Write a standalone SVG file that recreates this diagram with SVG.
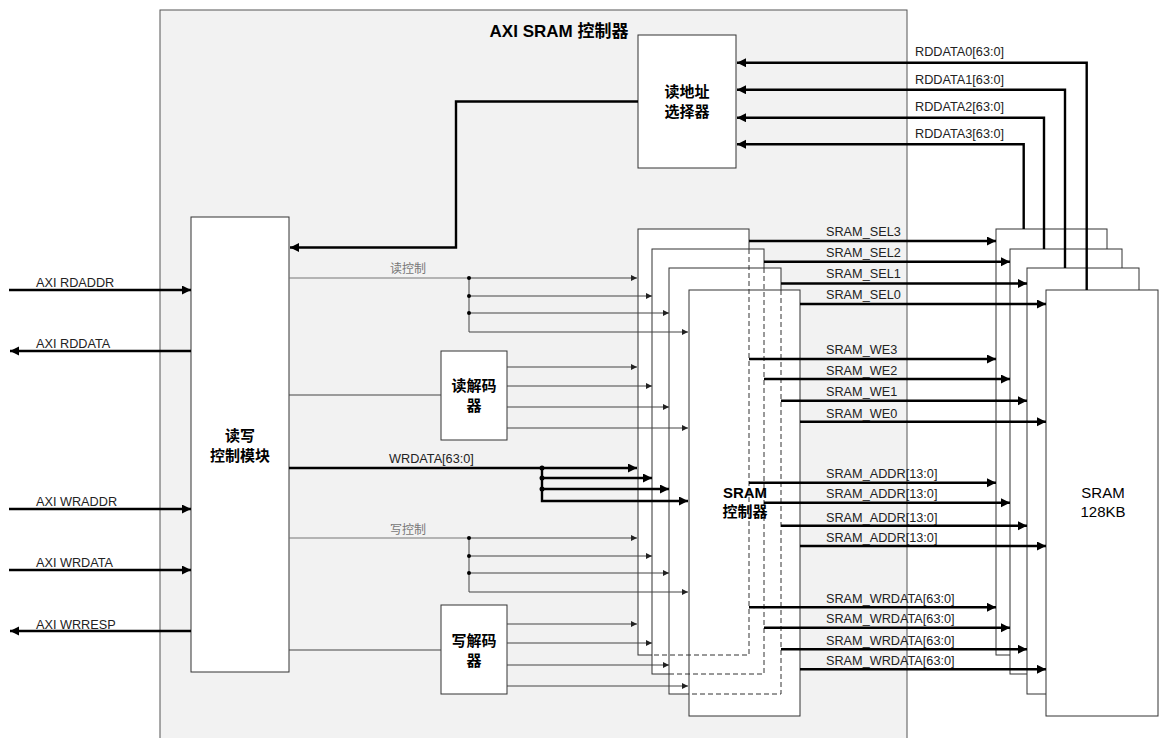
<svg xmlns="http://www.w3.org/2000/svg" width="1165" height="738" viewBox="0 0 1165 738">
<style>
.box{fill:#fff;stroke:#333;stroke-width:1}
.dash{fill:none;stroke:#333;stroke-width:1;stroke-dasharray:5,3}
.thick{fill:none;stroke:#000;stroke-width:2.4}
.thin{fill:none;stroke:#444;stroke-width:1}
.trunk{fill:none;stroke:#777;stroke-width:1}
.lbl{font-family:"Liberation Sans","Noto Sans CJK SC",sans-serif;font-size:12.7px;fill:#222}
.glbl{font-family:"Liberation Sans","Noto Sans CJK SC",sans-serif;font-size:12px;fill:#777}
.bt{font-family:"Liberation Sans","Noto Sans CJK SC",sans-serif;font-size:15px;font-weight:bold;fill:#000;text-anchor:middle}
.nt{font-family:"Liberation Sans","Noto Sans CJK SC",sans-serif;font-size:15px;fill:#000;text-anchor:middle}
.dot{fill:#000}
</style>
<defs>
<marker id="ah" markerUnits="userSpaceOnUse" markerWidth="10" markerHeight="10" refX="9" refY="4.5" orient="auto"><path d="M0,0 L9,4.5 L0,9 z" fill="#000"/></marker>
<marker id="as" markerUnits="userSpaceOnUse" markerWidth="7" markerHeight="7" refX="6" refY="3" orient="auto"><path d="M0,0 L6,3 L0,6 z" fill="#222"/></marker>
</defs>

<g id="axi-sram-controller">
<rect x="160" y="10" width="747" height="740" fill="#f2f2f2" stroke="#555" stroke-width="1"/>
<text x="559" y="37" style="font-family:'Liberation Sans','Noto Sans CJK SC',sans-serif;font-size:17px;font-weight:bold;text-anchor:middle">AXI SRAM 控制器</text>
</g>

<g id="read-addr-selector">
<rect class="box" x="638" y="35" width="98" height="133"/>
<text class="bt" x="687" y="97">读地址</text>
<text class="bt" x="687" y="117">选择器</text>
</g>

<g id="rw-control">
<rect class="box" x="191" y="217" width="98" height="455"/>
<text class="bt" x="240" y="441">读写</text>
<text class="bt" x="240" y="461">控制模块</text>
</g>

<g id="read-decoder">
<rect class="box" x="441" y="351" width="66" height="89"/>
<text class="bt" x="474" y="391">读解码</text>
<text class="bt" x="474" y="411">器</text>
</g>

<g id="write-decoder">
<rect class="box" x="441" y="605" width="66" height="89"/>
<text class="bt" x="474" y="646">写解码</text>
<text class="bt" x="474" y="666">器</text>
</g>

<g id="sram-ctrl-stack">
<rect class="box" x="638" y="229" width="111" height="426"/>
<rect class="box" x="652" y="249" width="112" height="425"/>
<rect class="box" x="669" y="268" width="112" height="426"/>
<rect class="box" x="689" y="290" width="111" height="426"/>
<path class="dash" d="M749,249 V655 H652"/>
<path class="dash" d="M764,268 V674 H669"/>
<path class="dash" d="M781,290 V694 H689"/>
<text class="bt" x="745" y="498">SRAM</text>
<text class="bt" x="745" y="517">控制器</text>
</g>

<g id="sram-stack">
<rect class="box" x="996" y="229" width="111" height="426"/>
<rect class="box" x="1010" y="249" width="112" height="425"/>
<rect class="box" x="1027" y="268" width="112" height="426"/>
<rect class="box" x="1046" y="290" width="112" height="426"/>
<text class="nt" x="1103" y="498">SRAM</text>
<text class="nt" x="1103" y="517">128KB</text>
</g>

<g id="connectors">
<!-- read selector to rw control -->
<path class="thick" d="M638,101.5 H456 V247.5 H290" marker-end="url(#ah)"/>
<!-- RDDATA -->
<path class="thick" d="M1086.7,290 V62.7 H737" marker-end="url(#ah)"/>
<path class="thick" d="M1065,268 V89.7 H737" marker-end="url(#ah)"/>
<path class="thick" d="M1044,249 V117.7 H737" marker-end="url(#ah)"/>
<path class="thick" d="M1023.7,229 V144.3 H737" marker-end="url(#ah)"/>
<!-- AXI ports -->
<path class="thick" d="M9,290 H191" marker-end="url(#ah)"/>
<path class="thick" d="M191,351 H10" marker-end="url(#ah)"/>
<path class="thick" d="M9,509 H191" marker-end="url(#ah)"/>
<path class="thick" d="M9,570 H191" marker-end="url(#ah)"/>
<path class="thick" d="M191,631 H10" marker-end="url(#ah)"/>
<!-- read control -->
<path class="trunk" d="M289,278 H469"/>
<path class="thin" d="M469,278 H637" marker-end="url(#as)"/>
<path class="thin" d="M469,296 H652" marker-end="url(#as)"/>
<path class="thin" d="M469,313 H669" marker-end="url(#as)"/>
<path class="thin" d="M469,278 V332 H688" marker-end="url(#as)"/>
<circle class="dot" cx="469" cy="278" r="2"/>
<circle class="dot" cx="469" cy="296" r="2"/>
<circle class="dot" cx="469" cy="313" r="2"/>
<!-- read decoder -->
<path class="thin" d="M289,395 H441"/>
<path class="thin" d="M507,367 H637" marker-end="url(#as)"/>
<path class="thin" d="M507,386 H652" marker-end="url(#as)"/>
<path class="thin" d="M507,407 H669" marker-end="url(#as)"/>
<path class="thin" d="M507,428 H688" marker-end="url(#as)"/>
<!-- WRDATA -->
<path class="thick" d="M289,468 H542"/>
<path class="thick" d="M542,468 H637" marker-end="url(#ah)"/>
<path class="thick" d="M542,478 H652" marker-end="url(#ah)"/>
<path class="thick" d="M542,489 H669" marker-end="url(#ah)"/>
<path class="thick" d="M542,468 V501 H688" marker-end="url(#ah)"/>
<circle class="dot" cx="542" cy="468" r="2.5"/>
<circle class="dot" cx="542" cy="478" r="2.5"/>
<circle class="dot" cx="542" cy="489" r="2.5"/>
<!-- write control -->
<path class="trunk" d="M289,538 H469"/>
<path class="thin" d="M469,538 H637" marker-end="url(#as)"/>
<path class="thin" d="M469,556 H652" marker-end="url(#as)"/>
<path class="thin" d="M469,573 H669" marker-end="url(#as)"/>
<path class="thin" d="M469,538 V592 H688" marker-end="url(#as)"/>
<circle class="dot" cx="469" cy="538" r="2"/>
<circle class="dot" cx="469" cy="556" r="2"/>
<circle class="dot" cx="469" cy="573" r="2"/>
<!-- write decoder -->
<path class="thin" d="M289,650 H441"/>
<path class="thin" d="M507,624 H637" marker-end="url(#as)"/>
<path class="thin" d="M507,643 H652" marker-end="url(#as)"/>
<path class="thin" d="M507,665 H669" marker-end="url(#as)"/>
<path class="thin" d="M507,686 H688" marker-end="url(#as)"/>
<!-- SEL -->
<path class="thick" d="M749,241 H996" marker-end="url(#ah)"/>
<path class="thick" d="M764,261.7 H1010" marker-end="url(#ah)"/>
<path class="thick" d="M781,283.5 H1027" marker-end="url(#ah)"/>
<path class="thick" d="M800,304 H1046" marker-end="url(#ah)"/>
<!-- WE -->
<path class="thick" d="M749,359 H996" marker-end="url(#ah)"/>
<path class="thick" d="M764,379 H1010" marker-end="url(#ah)"/>
<path class="thick" d="M781,400.7 H1027" marker-end="url(#ah)"/>
<path class="thick" d="M800,421.7 H1046" marker-end="url(#ah)"/>
<!-- ADDR -->
<path class="thick" d="M749,482.7 H996" marker-end="url(#ah)"/>
<path class="thick" d="M764,502.7 H1010" marker-end="url(#ah)"/>
<path class="thick" d="M781,525.7 H1027" marker-end="url(#ah)"/>
<path class="thick" d="M800,546 H1046" marker-end="url(#ah)"/>
<!-- SRAM WRDATA -->
<path class="thick" d="M749,607.3 H996" marker-end="url(#ah)"/>
<path class="thick" d="M764,627.7 H1010" marker-end="url(#ah)"/>
<path class="thick" d="M781,649.3 H1027" marker-end="url(#ah)"/>
<path class="thick" d="M800,669.3 H1046" marker-end="url(#ah)"/>

<!-- labels -->
<text class="lbl" x="36" y="287">AXI RDADDR</text>
<text class="lbl" x="36" y="347.5">AXI RDDATA</text>
<text class="lbl" x="36" y="506">AXI WRADDR</text>
<text class="lbl" x="36" y="567">AXI WRDATA</text>
<text class="lbl" x="36" y="628.5">AXI WRRESP</text>
<text class="glbl" x="390" y="273">读控制</text>
<text class="glbl" x="390" y="534">写控制</text>
<text class="lbl" x="389" y="463">WRDATA[63:0]</text>
<text class="lbl" x="915" y="56">RDDATA0[63:0]</text>
<text class="lbl" x="915" y="83.5">RDDATA1[63:0]</text>
<text class="lbl" x="915" y="111">RDDATA2[63:0]</text>
<text class="lbl" x="915" y="137.5">RDDATA3[63:0]</text>
<text class="lbl" x="826" y="236">SRAM_SEL3</text>
<text class="lbl" x="826" y="257">SRAM_SEL2</text>
<text class="lbl" x="826" y="278">SRAM_SEL1</text>
<text class="lbl" x="826" y="299">SRAM_SEL0</text>
<text class="lbl" x="826" y="354">SRAM_WE3</text>
<text class="lbl" x="826" y="375">SRAM_WE2</text>
<text class="lbl" x="826" y="396">SRAM_WE1</text>
<text class="lbl" x="826" y="417.5">SRAM_WE0</text>
<text class="lbl" x="826" y="478">SRAM_ADDR[13:0]</text>
<text class="lbl" x="826" y="498">SRAM_ADDR[13:0]</text>
<text class="lbl" x="826" y="521.5">SRAM_ADDR[13:0]</text>
<text class="lbl" x="826" y="541.5">SRAM_ADDR[13:0]</text>
<text class="lbl" x="826" y="603">SRAM_WRDATA[63:0]</text>
<text class="lbl" x="826" y="623">SRAM_WRDATA[63:0]</text>
<text class="lbl" x="826" y="645">SRAM_WRDATA[63:0]</text>
<text class="lbl" x="826" y="665">SRAM_WRDATA[63:0]</text>
</g>
</svg>
